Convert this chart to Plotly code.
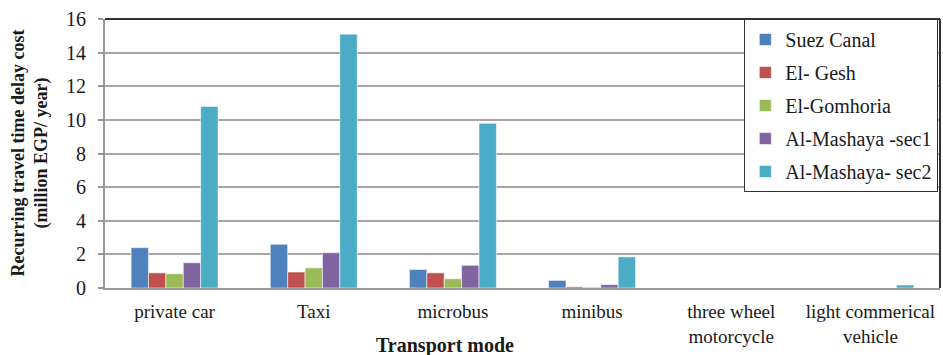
import plotly.graph_objects as go

# Transport modes on the category axis
modes = ["private car", "Taxi", "microbus", "minibus",
         "three wheel<br>motorcycle", "light commerical<br>vehicle"]

# Recurring travel time delay cost (million EGP / year) per road section
suez_canal = [2.4, 2.6, 1.1, 0.45, 0.0, 0.0]
el_gesh = [0.9, 0.95, 0.9, 0.07, 0.0, 0.0]
el_gomhoria = [0.85, 1.2, 0.55, 0.05, 0.0, 0.0]
mashaya_sec1 = [1.5, 2.1, 1.35, 0.2, 0.0, 0.0]
mashaya_sec2 = [10.8, 15.1, 9.8, 1.85, 0.0, 0.18]

series = [
    ("Suez Canal", suez_canal, "#4F81BD"),
    ("El- Gesh", el_gesh, "#C0504D"),
    ("El-Gomhoria", el_gomhoria, "#9BBB59"),
    ("Al-Mashaya -sec1", mashaya_sec1, "#8064A2"),
    ("Al-Mashaya- sec2", mashaya_sec2, "#4BACC6"),
]

y_ticks = [0, 2, 4, 6, 8, 10, 12, 14, 16]

FONT = "Liberation Serif"

fig = go.Figure()
for i, (name, vals, color) in enumerate(series):
    fig.add_trace(go.Bar(
        x=modes, y=vals, name=name, legendgroup=f"g{i}",
        marker=dict(color=color, line=dict(color="rgba(255,255,255,0.55)", width=1)),
    ))

fig.update_layout(
    width=943, height=355,
    margin=dict(l=105, r=3, t=19, b=67),
    paper_bgcolor="white", plot_bgcolor="white",
    font=dict(family=FONT, size=19, color="#1a1a1a"),
    barmode="group", bargap=0.375, bargroupgap=0,
    showlegend=True,
    legend=dict(
        x=0.998, xanchor="right", y=1, yanchor="top",
        bgcolor="white", bordercolor="#333333", borderwidth=1,
        font=dict(family=FONT, size=20, color="#1a1a1a"),
        tracegroupgap=4, itemwidth=30,
    ),
    xaxis=dict(
        showline=True, linecolor="#999999", linewidth=2,
        ticks="", tickfont=dict(family=FONT, size=19, color="#1a1a1a"),
        ticklabelstandoff=5,
        showgrid=False,
    ),
    yaxis=dict(
        range=[0, 16], tickvals=y_ticks, ticktext=[str(v) for v in y_ticks],
        showline=True, linecolor="#999999", linewidth=2,
        ticks="outside", ticklen=5, tickcolor="#999999", tickwidth=2,
        ticklabelstandoff=8,
        tickfont=dict(family=FONT, size=20, color="#1a1a1a"),
        showgrid=True, gridcolor="#A6A6A6", gridwidth=2,
        zeroline=False,
    ),
    shapes=[
        dict(type="line", xref="paper", yref="paper", x0=0, x1=1, y0=1, y1=1,
             line=dict(color="#333333", width=2)),
        dict(type="line", xref="paper", yref="paper", x0=1, x1=1, y0=0, y1=1,
             line=dict(color="#333333", width=2)),
    ],
    annotations=[
        dict(text="<b>Recurring travel time delay cost<br>(million EGP/ year)</b>",
             xref="paper", yref="paper", x=0, y=0.5, xanchor="center", yanchor="middle",
             xshift=-76, textangle=-90, showarrow=False,
             font=dict(family=FONT, size=18, color="#1a1a1a")),
        dict(text="<b>Transport mode</b>",
             xref="paper", yref="paper", x=0.407, y=0, xanchor="center", yanchor="middle",
             yshift=-57, showarrow=False,
             font=dict(family=FONT, size=20, color="#1a1a1a")),
    ],
)

fig.write_html("out.html")
